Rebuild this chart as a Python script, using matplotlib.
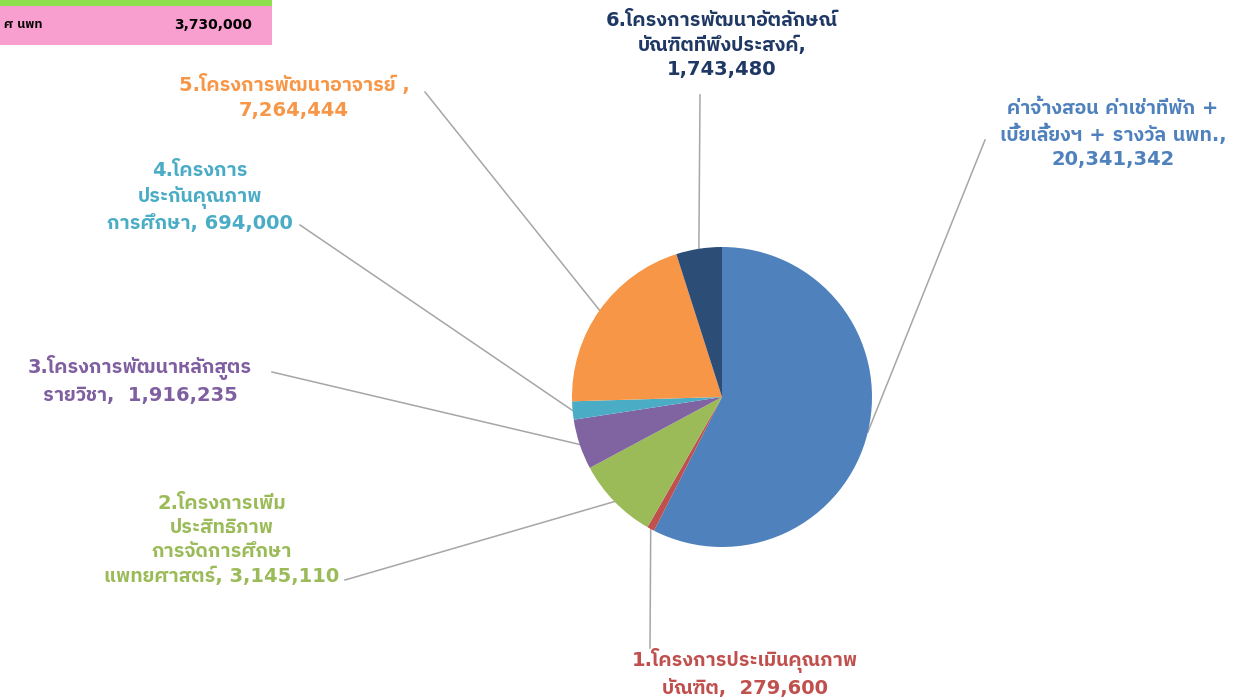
import matplotlib
matplotlib.use("Agg")
import numpy as np
import matplotlib.pyplot as plt

# data
label_templates = [
    "ค่าจ้างสอน ค่าเช่าที่พัก +\nเบี้ยเลี้ยงฯ + รางวัล นพท.,\n{}",
    "1.โครงการประเมินคุณภาพ\nบัณฑิต,  {}",
    "2.โครงการเพิ่ม\nประสิทธิภาพ\nการจัดการศึกษา\nแพทยศาสตร์, {}",
    "3.โครงการพัฒนาหลักสูตร\nรายวิชา,  {}",
    "4.โครงการ\nประกันคุณภาพ\nการศึกษา, {}",
    "5.โครงการพัฒนาอาจารย์ ,\n{}",
    "6.โครงการพัฒนาอัตลักษณ์\nบัณฑิตที่พึงประสงค์,\n{}",
]
values = [20341342, 279600, 3145110, 1916235, 694000, 7264444, 1743480]
slice_colors = ["#4F81BD", "#C0504D", "#9BBB59", "#8064A2", "#4BACC6", "#F79646", "#2C4D75"]
text_colors = ["#4F81BD", "#C0504D", "#9BBB59", "#7F5FA0", "#4BACC6", "#F79646", "#1F3864"]

box_label = "ศ นพท"
box_value = 3730000

W, H = 1247, 697

# DejaVu first for the wide latin digits, Thai glyphs fall through to Plex
plt.rcParams["font.family"] = ["DejaVu Sans", "IBM Plex Sans Thai"]

fig = plt.figure(figsize=(W / 100, H / 100), dpi=100)
ax = fig.add_axes([0, 0, 1, 1])

cx, cy, r = 722, H - 397, 150
wedges, _ = ax.pie(values, colors=slice_colors, startangle=90, counterclock=False,
                   center=(cx, cy), radius=r, frame=True)
ax.set_xlim(0, W)
ax.set_ylim(0, H)
ax.axis("off")

# label positions (pixel coords from top) and leader end points
label_pos = [(1113, 134), (745, 673), (222, 540), (140, 380), (200, 197), (294, 97), (722, 45)]
leader_end = [(985, 140), (650, 648), (345, 580), (272, 372), (300, 225), (425, 92), (700, 95)]

for w, tmpl, v, tc, (lx, ly), (ex, ey) in zip(wedges, label_templates, values, text_colors,
                                              label_pos, leader_end):
    mid = np.deg2rad((w.theta1 + w.theta2) / 2)
    px, py = cx + r * np.cos(mid), cy + r * np.sin(mid)
    ax.plot([px, ex], [py, H - ey], color="#A6A6A6", lw=1.1, zorder=0)
    ax.text(lx, H - ly, tmpl.format(f"{v:,}"), color=tc, fontsize=14, fontweight="bold",
            ha="center", va="center", multialignment="center", linespacing=1.35)

# partial table in top-left corner
ax.add_patch(plt.Rectangle((0, H - 6), 272, 6, color="#8EE04C", lw=0))
ax.add_patch(plt.Rectangle((0, H - 45), 272, 39, color="#F99FD0", lw=0))
ax.text(4, H - 25, box_label, fontsize=9, fontweight="bold", color="black", va="center")
ax.text(252, H - 25, f"{box_value:,}", fontsize=10, fontweight="bold", color="black",
        va="center", ha="right")

fig.savefig("out.png", dpi=100)
